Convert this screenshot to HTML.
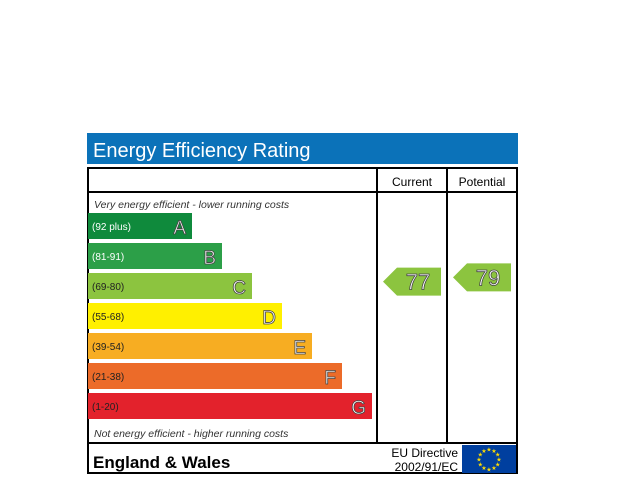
<!DOCTYPE html>
<html><head><meta charset="utf-8"><style>
body{margin:0;background:#fff;width:640px;height:480px;overflow:hidden}
svg{display:block;font-family:"Liberation Sans",Arial,sans-serif}
</style></head><body>
<svg id="c" width="640" height="480">
<rect x="87" y="133" width="431" height="31" fill="#0b72b9"/>
<text x="93" y="157" font-size="20" fill="#fff">Energy Efficiency Rating</text>
<rect x="88" y="168" width="429" height="305" fill="none" stroke="#000" stroke-width="2"/>
<line x1="88" y1="192" x2="517" y2="192" stroke="#000" stroke-width="2"/>
<line x1="88" y1="443" x2="517" y2="443" stroke="#000" stroke-width="2"/>
<line x1="377" y1="168" x2="377" y2="443" stroke="#000" stroke-width="2"/>
<line x1="447" y1="168" x2="447" y2="443" stroke="#000" stroke-width="2"/>
<text x="412" y="186" font-size="12" text-anchor="middle">Current</text>
<text x="482" y="186" font-size="12" text-anchor="middle">Potential</text>
<text x="94" y="208" font-size="10.5" font-style="italic" fill="#333">Very energy efficient - lower running costs</text>
<text x="94" y="437" font-size="10.5" font-style="italic" fill="#333">Not energy efficient - higher running costs</text>
<text x="93" y="468" font-size="17" font-weight="bold">England &amp; Wales</text>
<text x="458" y="457" font-size="12" text-anchor="end">EU Directive</text>
<text x="458" y="471" font-size="12" text-anchor="end">2002/91/EC</text>
<rect x="462" y="445" width="54" height="28" fill="#003f9f"/>
<g id="stars"></g>
<g id="bars"></g>
<g id="arrows"></g>
</svg>
<script>
const bands=["A","B","C","D","E","F","G"];
const ranges=["(92 plus)","(81-91)","(69-80)","(55-68)","(39-54)","(21-38)","(1-20)"];
const bandMin=[92,81,69,55,39,21,1];
const bandMax=[100,91,80,68,54,38,20];
const colors=["#0f8a3c","#2c9f48","#8cc43f","#fff000","#f7ad22","#ec6b29","#e3222c"];
const scoreLabels=["Current","Potential"];
const scores=[77,79];
const NS="http://www.w3.org/2000/svg";
const svg=document.getElementById('c');
function mk(t,a,p){const e=document.createElementNS(NS,t);for(const k in a)e.setAttribute(k,a[k]);p.appendChild(e);return e;}
const bandY=i=>213+i*30, bandW=i=>104+i*30;
// position of a score: inside its band, higher score -> higher
function scoreY(v){let i=bandMin.findIndex((m,j)=>v>=m&&v<=bandMax[j]);if(i<0)i=v>100?0:6;
 const f=(v-bandMin[i])/(bandMax[i]-bandMin[i]+1);return bandY(i)+26-f*26;}
const gb=document.getElementById('bars');
bands.forEach((b,i)=>{
 const r=mk('rect',{x:88,y:bandY(i),width:bandW(i),height:26,fill:colors[i]},gb);
 
 
 const t=mk('text',{x:92,y:bandY(i)+17,'font-size':10,fill:i<2?'#fff':'#222'},gb);t.textContent=ranges[i];
 
 
 const l=mk('text',{x:88+bandW(i)-6,y:bandY(i)+21,'font-size':19,'text-anchor':'end',fill:'#fff',stroke:'#444','stroke-width':0.8},gb);l.textContent=b;
 
 
});
const ga=document.getElementById('arrows');
scores.forEach((v,i)=>{
 const x0=383+i*70,w=58,h=28,yc=scoreY(v);
 const idx=bandMin.findIndex((m,j)=>v>=m&&v<=bandMax[j]);
 const p=mk('polygon',{points:`${x0},${yc} ${x0+14},${yc-h/2} ${x0+w},${yc-h/2} ${x0+w},${yc+h/2} ${x0+14},${yc+h/2}`,fill:colors[idx<0?6:idx]},ga);
 
 
 const t=mk('text',{x:x0+w/2+6,y:yc+8,'font-size':22,'text-anchor':'middle',fill:'#fff',stroke:'#444','stroke-width':0.8},ga);t.textContent=v;
 
 
});
const gs=document.getElementById('stars');
for(let k=0;k<12;k++){const a=k*Math.PI/6;
 const s=mk('text',{x:489+Math.cos(a)*10,y:459+Math.sin(a)*10+2.5,'font-size':6,fill:'#ffdd00','text-anchor':'middle'},gs);s.textContent='★';
 
 }
</script>
</body></html>
